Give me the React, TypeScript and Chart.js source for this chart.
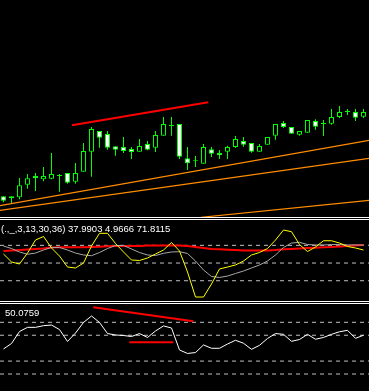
import React, { useEffect, useRef } from "react";
import { Chart, registerables } from "chart.js";

Chart.register(...registerables);

// ---------- data ----------
// main pane candles (price units, arbitrary scale)
const opens = [21.7, 21.7, 20.7, 33.3, 42, 38.7, 39.3, 42, 45, 36.3, 46.3, 66.3, 87, 84, 71.7, 71, 69, 66.3, 74, 70.3, 82.3, 92, 94, 59.7, 56.7, 54.3, 68.7, 65, 66.3, 71, 77, 75, 66.3, 73.3, 82.3, 95, 91, 83.3, 85.3, 97, 94, 94.3, 101, 106, 106, 101.3];
const closes = [17.3, 19.7, 32.7, 39.7, 39.7, 42, 44, 42, 35.3, 45, 67, 89, 80.3, 70.3, 68.3, 67, 66, 72, 68.3, 83, 94, 92, 61.3, 54.7, 56.7, 71, 64.3, 62.7, 71, 79, 73.3, 66.3, 72, 81, 94, 91, 84.3, 87, 98, 91.3, 94, 101, 106, 106, 100.3, 106];
const highs = [21.7, 21.7, 40, 44, 45, 51, 65, 44, 45, 55, 75, 91, 87, 87, 71.7, 81, 71, 79, 77, 87, 101, 101, 94, 71, 62, 74, 71, 68, 72.3, 82, 81, 75, 74, 81, 94, 97, 91, 87, 98, 98.7, 98, 109, 112, 109, 109, 109];
const lows = [15.8, 14.7, 18.7, 29.3, 27, 36.7, 38.7, 26.3, 34.3, 34.3, 46.3, 41.3, 70.3, 68.3, 62.3, 65, 59, 66.3, 67.7, 66, 82.3, 82.3, 59, 48, 51, 54.3, 61, 59, 59, 70, 71.3, 65.3, 66.3, 73.3, 78.3, 90, 84.3, 82.3, 85.3, 88.3, 82, 93.3, 100, 103, 97, 100];

// main pane trend lines: [barIndex, price]
const redTrendMain = [[8.56, 92.7], [25.6, 115.7]];
const orangeTrendA = [[-0.4375, 12.3], [45.6875, 77.7]];
const orangeTrendB = [[-0.4375, 7.7], [45.6875, 59.7]];
const orangeTrendC = [[24.69, 0.7], [45.6875, 17.7]];

// indicator 1
const osc1Label = "(.,_,3,13,30,36) 37.9903 4.9666 71.8115";
const oscYellow = [60.2, 51.2, 48.9, 61.3, 76.0, 80.0, 67.0, 57.9, 45.5, 44.4, 50.0, 69.2, 83.6, 83.6, 72.1, 62.5, 53.4, 52.9, 55.7, 60.2, 64.7, 73.2, 63.6, 39.9, 11.6, 11.6, 26.3, 43.3, 45.5, 47.8, 52.3, 59.1, 61.9, 66.4, 76.0, 87.3, 85.4, 70.9, 63.0, 68.1, 75.2, 75.2, 72.6, 68.7, 67.0, 64.7];
const oscGray = [69.2, 66.4, 62.5, 59.9, 61.3, 64.7, 67.6, 67.6, 64.7, 61.3, 59.1, 58.3, 61.9, 66.4, 69.8, 69.8, 65.9, 61.9, 59.1, 58.5, 61.0, 62.5, 62.8, 60.8, 52.3, 42.1, 34.8, 33.7, 35.3, 38.2, 41.0, 44.4, 47.8, 52.3, 59.1, 67.6, 72.6, 73.4, 70.9, 70.4, 70.4, 70.9, 70.9, 70.4, 70.4, 70.4];
const oscRed = [63.6, 64.2, 64.7, 65.3, 65.9, 66.4, 67.6, 67.8, 67.8, 67.8, 67.8, 68.1, 68.5, 68.9, 69.2, 69.2, 69.2, 69.2, 69.8, 69.8, 69.8, 69.8, 69.8, 69.2, 68.1, 67.0, 65.9, 65.5, 65.1, 64.7, 64.3, 64.3, 64.3, 64.3, 64.7, 65.5, 65.9, 66.4, 67.0, 67.3, 67.8, 68.1, 68.7, 69.2, 69.8, 70.4];
const osc1Levels = [70, 50, 30];

// indicator 2
const osc2Label = "50.0759";
const osc2White = [49.4, 53.6, 62.9, 66.1, 66.1, 67.4, 67.9, 64.4, 55.2, 61.7, 69.9, 74.9, 69.9, 61.3, 60.2, 59.8, 59.0, 61.3, 58.3, 63.3, 67.2, 65.6, 48.6, 45.9, 46.6, 52.5, 49.9, 49.9, 53.2, 56.1, 53.8, 49.1, 52.2, 57.5, 61.3, 60.7, 55.3, 56.7, 60.7, 56.9, 58.3, 60.7, 62.7, 63.8, 57.6, 60.0];
const osc2Levels = [70, 60, 40, 30];
const osc2RedTrend = [[11.225, 81.6], [23.725, 70.8]];
const osc2RedFlat = [[15.725, 54.5], [21.225, 54.5]];

// ---------- layout ----------
const W = 369;
const X_MIN = -0.4375;
const X_MAX = 45.6875;

const pts = (arr: number[][]) => arr.map(([x, y]) => ({ x, y }));
const series = (arr: number[]) => arr.map((y, i) => ({ x: i, y }));

const baseOptions = (yMin: number, yMax: number): any => ({
  responsive: false,
  animation: false,
  events: [],
  layout: { padding: 0 },
  plugins: { legend: { display: false }, tooltip: { enabled: false }, title: { display: false } },
  scales: {
    x: { type: "linear", min: X_MIN, max: X_MAX, display: false, offset: false },
    y: { type: "linear", min: yMin, max: yMax, display: false },
  },
});

const lineDs = (data: any[], color: string, width: number, order = 0, dash: number[] = []) => ({
  type: "line",
  data,
  borderColor: color,
  borderWidth: width,
  borderDash: dash,
  pointRadius: 0,
  tension: 0,
  fill: false,
  order,
});

const levelDs = (lv: number) =>
  lineDs([{ x: X_MIN, y: lv }, { x: X_MAX, y: lv }], "#c0c0c0", 1, 5, [4, 4]);

export default function App() {
  const mainRef = useRef<HTMLCanvasElement>(null);
  const p1Ref = useRef<HTMLCanvasElement>(null);
  const p2Ref = useRef<HTMLCanvasElement>(null);

  useEffect(() => {
    document.body.style.margin = "0";
    document.body.style.background = "#000";
    const charts: Chart[] = [];

    const bodyColors = opens.map((o, i) => (closes[i] < o ? "#ffffff" : "#000000"));

    charts.push(
      new Chart(mainRef.current!, {
        type: "bar",
        data: {
          datasets: [
            lineDs(pts(redTrendMain), "#ff0000", 2, 0),
            lineDs(pts(orangeTrendA), "#ff8c00", 1.2, 0),
            lineDs(pts(orangeTrendB), "#ff8c00", 1.2, 0),
            lineDs(pts(orangeTrendC), "#ff8c00", 1.2, 0),
            {
              type: "bar",
              data: opens.map((o, i) => ({ x: i, y: [o, closes[i]] })),
              backgroundColor: bodyColors,
              borderColor: "#00ff00",
              borderWidth: 1,
              borderSkipped: false,
              barThickness: 5,
              grouped: false,
              minBarLength: 1,
              inflateAmount: 0,
              order: 1,
            },
            {
              type: "bar",
              data: lows.map((l, i) => ({ x: i, y: [l, highs[i]] })),
              backgroundColor: "#00ff00",
              borderWidth: 0,
              barThickness: 1,
              grouped: false,
              inflateAmount: 0,
              order: 2,
            },
          ] as any,
        },
        options: baseOptions(1, 218),
      })
    );

    charts.push(
      new Chart(p1Ref.current!, {
        type: "line",
        data: {
          datasets: [
            ...osc1Levels.map(levelDs),
            lineDs(series(oscRed), "#ff0000", 2, 3),
            lineDs(series(oscGray), "#a8a8a8", 1, 2),
            lineDs(series(oscYellow), "#ffff00", 1, 1),
          ] as any,
        },
        options: baseOptions(7.1, 98.63),
      })
    );

    charts.push(
      new Chart(p2Ref.current!, {
        type: "line",
        data: {
          datasets: [
            ...osc2Levels.map(levelDs),
            lineDs(series(osc2White), "#ffffff", 1, 1),
            lineDs(pts(osc2RedTrend), "#ff0000", 2, 0),
            lineDs(pts(osc2RedFlat), "#ff0000", 2, 0),
          ] as any,
        },
        options: baseOptions(16.86, 84.17),
      })
    );

    return () => charts.forEach((c) => c.destroy());
  }, []);

  const abs = (top: number, h: number): React.CSSProperties => ({
    position: "absolute",
    left: 0,
    top,
    width: W,
    height: h,
  });
  const sep = (top: number) => <div style={{ ...abs(top, 1), background: "#ffffff" }} />;
  const textStyle = (top: number, left: number): React.CSSProperties => ({
    position: "absolute",
    left,
    top,
    color: "#ffffff",
    font: "9.5px 'Liberation Sans', Arial, sans-serif",
    lineHeight: "9.5px",
    whiteSpace: "nowrap",
  });

  return (
    <div style={{ position: "fixed", left: 0, top: 0, width: W, height: 391, background: "#000", overflow: "hidden" }}>
      <canvas ref={mainRef} width={W} height={217} style={{ ...abs(0, 217), display: "block" }} />
      {sep(217)}
      {sep(219)}
      <canvas ref={p1Ref} width={W} height={81} style={{ ...abs(220, 81), display: "block" }} />
      {sep(301)}
      {sep(303)}
      <canvas ref={p2Ref} width={W} height={87} style={{ ...abs(304, 87), display: "block" }} />
      <span style={textStyle(223.5, 1)}>{osc1Label}</span>
      <span style={textStyle(308, 5)}>{osc2Label}</span>
    </div>
  );
}
